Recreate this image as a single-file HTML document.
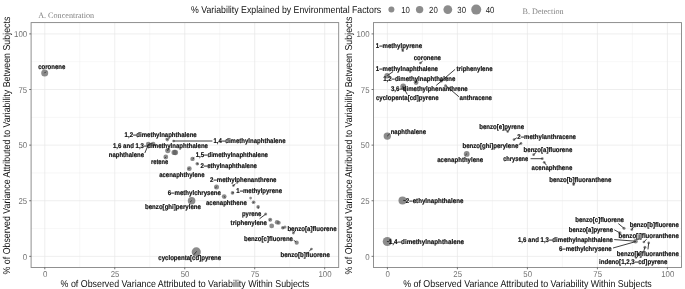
<!DOCTYPE html>
<html><head><meta charset="utf-8"><title>chart</title>
<style>html,body{margin:0;padding:0;background:#fff}svg{display:block;will-change:transform;transform:translateZ(0)}text{font-family:"Liberation Sans",sans-serif;text-rendering:geometricPrecision}.lab{font-weight:bold;font-size:6.8px;fill:#111;stroke:#111;stroke-width:0.18px}.tick{font-size:8.5px;fill:#727272}.ttl{font-size:9.9px;fill:#111}.ser{font-family:"Liberation Serif",serif;font-size:8.3px;fill:#828282}</style></head><body>
<svg width="685" height="289" viewBox="0 0 685 289">
<rect width="685" height="289" fill="#fff"/>
<g><line x1="79.79" y1="22.6" x2="79.79" y2="267.45" stroke="#ececec" stroke-width="0.4"/><line x1="31.10" y1="228.54" x2="338.70" y2="228.54" stroke="#ececec" stroke-width="0.4"/><line x1="149.76" y1="22.6" x2="149.76" y2="267.45" stroke="#ececec" stroke-width="0.4"/><line x1="31.10" y1="172.93" x2="338.70" y2="172.93" stroke="#ececec" stroke-width="0.4"/><line x1="219.74" y1="22.6" x2="219.74" y2="267.45" stroke="#ececec" stroke-width="0.4"/><line x1="31.10" y1="117.32" x2="338.70" y2="117.32" stroke="#ececec" stroke-width="0.4"/><line x1="289.71" y1="22.6" x2="289.71" y2="267.45" stroke="#ececec" stroke-width="0.4"/><line x1="31.10" y1="61.71" x2="338.70" y2="61.71" stroke="#ececec" stroke-width="0.4"/><line x1="44.80" y1="22.6" x2="44.80" y2="267.45" stroke="#e6e6e6" stroke-width="0.7"/><line x1="31.10" y1="256.35" x2="338.70" y2="256.35" stroke="#e6e6e6" stroke-width="0.7"/><line x1="114.77" y1="22.6" x2="114.77" y2="267.45" stroke="#e6e6e6" stroke-width="0.7"/><line x1="31.10" y1="200.74" x2="338.70" y2="200.74" stroke="#e6e6e6" stroke-width="0.7"/><line x1="184.75" y1="22.6" x2="184.75" y2="267.45" stroke="#e6e6e6" stroke-width="0.7"/><line x1="31.10" y1="145.13" x2="338.70" y2="145.13" stroke="#e6e6e6" stroke-width="0.7"/><line x1="254.72" y1="22.6" x2="254.72" y2="267.45" stroke="#e6e6e6" stroke-width="0.7"/><line x1="31.10" y1="89.51" x2="338.70" y2="89.51" stroke="#e6e6e6" stroke-width="0.7"/><line x1="324.70" y1="22.6" x2="324.70" y2="267.45" stroke="#e6e6e6" stroke-width="0.7"/><line x1="31.10" y1="33.90" x2="338.70" y2="33.90" stroke="#e6e6e6" stroke-width="0.7"/></g>
<g fill="#555555" fill-opacity="0.68"><circle cx="44.7" cy="72.9" r="3.5"/><circle cx="167.3" cy="139.6" r="1.8"/><circle cx="173.6" cy="141" r="1.35"/><circle cx="148.3" cy="144.1" r="2.4"/><circle cx="153.1" cy="144.1" r="2.4"/><circle cx="167.8" cy="150.6" r="2.6"/><circle cx="174.2" cy="152.4" r="2.7"/><circle cx="175.4" cy="152.5" r="2.7"/><circle cx="165.8" cy="157" r="2.4"/><circle cx="192.5" cy="158.9" r="2.2"/><circle cx="197.2" cy="163.7" r="1.7"/><circle cx="189.3" cy="168.7" r="2.4"/><circle cx="216.5" cy="187" r="2.5"/><circle cx="233.4" cy="185.6" r="1.35"/><circle cx="232.5" cy="192.9" r="1.8"/><circle cx="224.2" cy="196.6" r="2.4"/><circle cx="191.6" cy="200.7" r="3.8"/><circle cx="250.6" cy="198.1" r="1.35"/><circle cx="253.6" cy="202.2" r="1.8"/><circle cx="258.1" cy="206.9" r="1.8"/><circle cx="265.7" cy="214" r="1.5"/><circle cx="270.2" cy="219.7" r="2"/><circle cx="277.0" cy="222.3" r="2.2"/><circle cx="278.7" cy="222.8" r="2.0"/><circle cx="271.7" cy="225.9" r="2.4"/><circle cx="282.8" cy="227.8" r="1.8"/><circle cx="285" cy="227" r="1.5"/><circle cx="293.4" cy="233" r="1.4"/><circle cx="296.7" cy="242.7" r="2.1"/><circle cx="311.4" cy="249" r="1.35"/><circle cx="196.3" cy="251.9" r="4.6"/></g>
<g stroke="#2a2a2a" stroke-width="0.9" stroke-linecap="round"><line x1="173.6" y1="141" x2="212" y2="141"/><line x1="145" y1="152.6" x2="148" y2="145.5"/><line x1="233.4" y1="185.6" x2="235.2" y2="184.1"/><line x1="259.9" y1="218.5" x2="265.5" y2="214.3"/><line x1="293.4" y1="233" x2="295.5" y2="230.5"/><line x1="311.4" y1="249" x2="309.5" y2="251"/><line x1="196.4" y1="251.7" x2="194" y2="254.5"/><line x1="294" y1="240.5" x2="295.8" y2="241.8"/><line x1="216.5" y1="187" x2="215.6" y2="187.7"/><line x1="232.5" y1="192.9" x2="233.5" y2="192.7"/><line x1="224.2" y1="196.6" x2="225.1" y2="197.4"/><line x1="191.6" y1="200.7" x2="190.3" y2="201.9"/><line x1="253.6" y1="202.2" x2="253.0" y2="202.8"/><line x1="258.1" y1="206.9" x2="258.3" y2="208.1"/><line x1="167.3" y1="139.6" x2="166.5" y2="138.8"/><line x1="165.8" y1="157" x2="165.0" y2="157.9"/><line x1="193" y1="158.7" x2="193.9" y2="157.9"/><line x1="197.2" y1="163.7" x2="198.2" y2="164.0"/><line x1="189.2" y1="168.2" x2="188.5" y2="169.1"/><line x1="167.8" y1="150.6" x2="167.2" y2="150.0"/><line x1="44.7" y1="72.9" x2="45.7" y2="71.9"/><line x1="270.2" y1="219.7" x2="269.4" y2="220.3"/><line x1="282.8" y1="227.8" x2="283.8" y2="228.0"/></g>
<g class="lab"><text x="38.2" y="69.40" textLength="27.1" lengthAdjust="spacingAndGlyphs">coronene</text><text x="124.6" y="136.60" textLength="72.1" lengthAdjust="spacingAndGlyphs">1,2–dimethylnaphthalene</text><text x="213.5" y="142.60" textLength="72.0" lengthAdjust="spacingAndGlyphs">1,4–dimethylnaphthalene</text><text x="113" y="148.10" textLength="95.0" lengthAdjust="spacingAndGlyphs">1,6 and 1,3–dimethylnaphthalene</text><text x="108.8" y="157.10" textLength="35.2" lengthAdjust="spacingAndGlyphs">naphthalene</text><text x="151" y="164.40" textLength="17.3" lengthAdjust="spacingAndGlyphs">retene</text><text x="195.7" y="156.90" textLength="72.3" lengthAdjust="spacingAndGlyphs">1,5–dimethylnaphthalene</text><text x="200.5" y="167.70" textLength="56.5" lengthAdjust="spacingAndGlyphs">2–ethylnaphthalene</text><text x="159.2" y="176.50" textLength="45.3" lengthAdjust="spacingAndGlyphs">acenaphthylene</text><text x="210" y="182.40" textLength="66.5" lengthAdjust="spacingAndGlyphs">2–methylphenanthrene</text><text x="167.7" y="194.80" textLength="53.3" lengthAdjust="spacingAndGlyphs">6–methylchrysene</text><text x="236.3" y="192.70" textLength="45.7" lengthAdjust="spacingAndGlyphs">1–methylpyrene</text><text x="205.9" y="205.40" textLength="40.9" lengthAdjust="spacingAndGlyphs">acenaphthene</text><text x="145" y="209.10" textLength="55.9" lengthAdjust="spacingAndGlyphs">benzo[ghi]perylene</text><text x="242" y="215.60" textLength="19.4" lengthAdjust="spacingAndGlyphs">pyrene</text><text x="230.6" y="224.70" textLength="36.4" lengthAdjust="spacingAndGlyphs">triphenylene</text><text x="287.4" y="231.10" textLength="49.2" lengthAdjust="spacingAndGlyphs">benzo[a]fluorene</text><text x="244" y="241.00" textLength="49.0" lengthAdjust="spacingAndGlyphs">benzo[c]fluorene</text><text x="280.5" y="256.50" textLength="49.3" lengthAdjust="spacingAndGlyphs">benzo[b]fluorene</text><text x="158.3" y="259.90" textLength="62.9" lengthAdjust="spacingAndGlyphs">cyclopenta[cd]pyrene</text></g>
<rect x="31.10" y="22.6" width="307.60" height="244.85" fill="none" stroke="#848484" stroke-width="0.9"/>
<g><line x1="44.80" y1="267.45" x2="44.80" y2="269.34999999999997" stroke="#4a4a4a" stroke-width="0.75"/><line x1="29.20" y1="256.35" x2="31.10" y2="256.35" stroke="#4a4a4a" stroke-width="0.75"/><text class="tick" x="42.92" y="277.3" textLength="4.4" lengthAdjust="spacingAndGlyphs">0</text><text class="tick" x="22.84" y="259.50" textLength="4.4" lengthAdjust="spacingAndGlyphs">0</text><line x1="114.77" y1="267.45" x2="114.77" y2="269.34999999999997" stroke="#4a4a4a" stroke-width="0.75"/><line x1="29.20" y1="200.74" x2="31.10" y2="200.74" stroke="#4a4a4a" stroke-width="0.75"/><text class="tick" x="110.71" y="277.3" textLength="8.7" lengthAdjust="spacingAndGlyphs">25</text><text class="tick" x="18.48" y="203.89" textLength="8.7" lengthAdjust="spacingAndGlyphs">25</text><line x1="184.75" y1="267.45" x2="184.75" y2="269.34999999999997" stroke="#4a4a4a" stroke-width="0.75"/><line x1="29.20" y1="145.13" x2="31.10" y2="145.13" stroke="#4a4a4a" stroke-width="0.75"/><text class="tick" x="180.69" y="277.3" textLength="8.7" lengthAdjust="spacingAndGlyphs">50</text><text class="tick" x="18.48" y="148.28" textLength="8.7" lengthAdjust="spacingAndGlyphs">50</text><line x1="254.72" y1="267.45" x2="254.72" y2="269.34999999999997" stroke="#4a4a4a" stroke-width="0.75"/><line x1="29.20" y1="89.51" x2="31.10" y2="89.51" stroke="#4a4a4a" stroke-width="0.75"/><text class="tick" x="250.66" y="277.3" textLength="8.7" lengthAdjust="spacingAndGlyphs">75</text><text class="tick" x="18.48" y="92.66" textLength="8.7" lengthAdjust="spacingAndGlyphs">75</text><line x1="324.70" y1="267.45" x2="324.70" y2="269.34999999999997" stroke="#4a4a4a" stroke-width="0.75"/><line x1="29.20" y1="33.90" x2="31.10" y2="33.90" stroke="#4a4a4a" stroke-width="0.75"/><text class="tick" x="318.46" y="277.3" textLength="13.1" lengthAdjust="spacingAndGlyphs">100</text><text class="tick" x="14.12" y="37.05" textLength="13.1" lengthAdjust="spacingAndGlyphs">100</text></g>
<text class="ttl" x="184.90" y="287.45" text-anchor="middle" textLength="248.6" lengthAdjust="spacingAndGlyphs">% of Observed Variance Attributed to Variability Within Subjects</text>
<text class="ttl" style="font-size:10.0px" transform="translate(9.85,145.58) rotate(-90)" text-anchor="middle" textLength="257.8" lengthAdjust="spacingAndGlyphs">% of Observed Variance Attributed to Variability Between Subjects</text>
<g><line x1="422.40" y1="22.6" x2="422.40" y2="267.45" stroke="#ececec" stroke-width="0.4"/><line x1="373.45" y1="228.54" x2="681.50" y2="228.54" stroke="#ececec" stroke-width="0.4"/><line x1="492.40" y1="22.6" x2="492.40" y2="267.45" stroke="#ececec" stroke-width="0.4"/><line x1="373.45" y1="172.93" x2="681.50" y2="172.93" stroke="#ececec" stroke-width="0.4"/><line x1="562.40" y1="22.6" x2="562.40" y2="267.45" stroke="#ececec" stroke-width="0.4"/><line x1="373.45" y1="117.32" x2="681.50" y2="117.32" stroke="#ececec" stroke-width="0.4"/><line x1="632.40" y1="22.6" x2="632.40" y2="267.45" stroke="#ececec" stroke-width="0.4"/><line x1="373.45" y1="61.71" x2="681.50" y2="61.71" stroke="#ececec" stroke-width="0.4"/><line x1="387.40" y1="22.6" x2="387.40" y2="267.45" stroke="#e6e6e6" stroke-width="0.7"/><line x1="373.45" y1="256.35" x2="681.50" y2="256.35" stroke="#e6e6e6" stroke-width="0.7"/><line x1="457.40" y1="22.6" x2="457.40" y2="267.45" stroke="#e6e6e6" stroke-width="0.7"/><line x1="373.45" y1="200.74" x2="681.50" y2="200.74" stroke="#e6e6e6" stroke-width="0.7"/><line x1="527.40" y1="22.6" x2="527.40" y2="267.45" stroke="#e6e6e6" stroke-width="0.7"/><line x1="373.45" y1="145.13" x2="681.50" y2="145.13" stroke="#e6e6e6" stroke-width="0.7"/><line x1="597.40" y1="22.6" x2="597.40" y2="267.45" stroke="#e6e6e6" stroke-width="0.7"/><line x1="373.45" y1="89.51" x2="681.50" y2="89.51" stroke="#e6e6e6" stroke-width="0.7"/><line x1="667.40" y1="22.6" x2="667.40" y2="267.45" stroke="#e6e6e6" stroke-width="0.7"/><line x1="373.45" y1="33.90" x2="681.50" y2="33.90" stroke="#e6e6e6" stroke-width="0.7"/></g>
<g fill="#555555" fill-opacity="0.68"><circle cx="402.8" cy="50.7" r="1.35"/><circle cx="420.4" cy="63.0" r="1.35"/><circle cx="387.1" cy="75.8" r="2.7"/><circle cx="416.1" cy="82.5" r="2.4"/><circle cx="441.3" cy="81.0" r="1.5"/><circle cx="445.5" cy="85.7" r="1.5"/><circle cx="403.2" cy="86.5" r="2.9"/><circle cx="387.3" cy="136.1" r="3.7"/><circle cx="466.7" cy="153.9" r="2.9"/><circle cx="507.7" cy="131.6" r="1.35"/><circle cx="514" cy="139.6" r="1.35"/><circle cx="521" cy="143.4" r="1.35"/><circle cx="533.6" cy="154.7" r="1.35"/><circle cx="542.3" cy="158.7" r="1.35"/><circle cx="544.2" cy="162.3" r="1.35"/><circle cx="402.5" cy="200.4" r="4"/><circle cx="387.3" cy="241.5" r="4.6"/><circle cx="573.6" cy="184.6" r="1.35"/><circle cx="624" cy="228.3" r="1.5"/><circle cx="631.8" cy="229.6" r="1.35"/><circle cx="619.9" cy="232.9" r="1.6"/><circle cx="635.6" cy="241.3" r="2.2"/><circle cx="643.9" cy="242" r="1.35"/><circle cx="648.7" cy="242.9" r="1.35"/><circle cx="644.9" cy="247.2" r="1.5"/><circle cx="639.4" cy="254" r="1.5"/></g>
<g stroke="#2a2a2a" stroke-width="0.9" stroke-linecap="round"><line x1="454.8" y1="69.6" x2="436.5" y2="85.2"/><line x1="387.6" y1="75.4" x2="392.8" y2="71.8"/><line x1="403.3" y1="87.2" x2="407" y2="94"/><line x1="446" y1="85.7" x2="458.6" y2="96.5"/><line x1="402.8" y1="50.7" x2="401.8" y2="48.9"/><line x1="420.4" y1="63" x2="422.3" y2="61.4"/><line x1="387.5" y1="135.9" x2="389.5" y2="134"/><line x1="507.7" y1="131.6" x2="506" y2="129.5"/><line x1="514" y1="139.6" x2="516.5" y2="138"/><line x1="521" y1="143.4" x2="519" y2="144.5"/><line x1="533.6" y1="154.7" x2="536" y2="152.5"/><line x1="531" y1="158.7" x2="542.3" y2="158.7"/><line x1="544.2" y1="162.3" x2="546.3" y2="165"/><line x1="618.6" y1="223.8" x2="624" y2="228.3"/><line x1="631.8" y1="229.6" x2="633.5" y2="227"/><line x1="614.6" y1="230" x2="619.9" y2="232.9"/><line x1="614.6" y1="239.6" x2="635.4" y2="241.2"/><line x1="613.4" y1="247.9" x2="635.4" y2="241.7"/><line x1="643.9" y1="242" x2="646.3" y2="239.5"/><line x1="648.7" y1="242.9" x2="648" y2="249"/><line x1="644.9" y1="247.2" x2="644" y2="250.5"/><line x1="639.4" y1="254" x2="636" y2="258.5"/><line x1="573.6" y1="184.6" x2="575.3" y2="182.8"/><line x1="415.9" y1="82.6" x2="415.4" y2="81.6"/><line x1="466.6" y1="154" x2="465.6" y2="155.0"/><line x1="403.6" y1="200.4" x2="405.5" y2="200.6"/><line x1="387.3" y1="241.5" x2="389.1" y2="241.7"/><line x1="403.2" y1="86.5" x2="402.4" y2="87.1"/><line x1="441.3" y1="81.0" x2="442.1" y2="80.2"/></g>
<g class="lab"><text x="375.8" y="48.30" textLength="46.3" lengthAdjust="spacingAndGlyphs">1–methylpyrene</text><text x="413.7" y="60.40" textLength="27.3" lengthAdjust="spacingAndGlyphs">coronene</text><text x="375.8" y="71.40" textLength="62.2" lengthAdjust="spacingAndGlyphs">1–methylnaphthalene</text><text x="456.6" y="71.40" textLength="35.9" lengthAdjust="spacingAndGlyphs">triphenylene</text><text x="383.2" y="80.80" textLength="72.1" lengthAdjust="spacingAndGlyphs">1,2–dimethylnaphthalene</text><text x="391.0" y="91.40" textLength="76.7" lengthAdjust="spacingAndGlyphs">3,6–dimethylphenanthrene</text><text x="376.0" y="100.20" textLength="62.6" lengthAdjust="spacingAndGlyphs">cyclopenta[cd]pyrene</text><text x="459.6" y="100.20" textLength="32.4" lengthAdjust="spacingAndGlyphs">anthracene</text><text x="390.7" y="133.50" textLength="35.3" lengthAdjust="spacingAndGlyphs">naphthalene</text><text x="479.3" y="129.10" textLength="44.7" lengthAdjust="spacingAndGlyphs">benzo[e]pyrene</text><text x="517.3" y="139.00" textLength="58.7" lengthAdjust="spacingAndGlyphs">2–methylanthracene</text><text x="462.5" y="147.80" textLength="55.8" lengthAdjust="spacingAndGlyphs">benzo[ghi]perylene</text><text x="523.6" y="152.40" textLength="48.7" lengthAdjust="spacingAndGlyphs">benzo[a]fluorene</text><text x="437.2" y="162.20" textLength="46.0" lengthAdjust="spacingAndGlyphs">acenaphthylene</text><text x="503.2" y="161.10" textLength="25.1" lengthAdjust="spacingAndGlyphs">chrysene</text><text x="531.6" y="170.30" textLength="40.7" lengthAdjust="spacingAndGlyphs">acenaphthene</text><text x="549.2" y="182.40" textLength="62.3" lengthAdjust="spacingAndGlyphs">benzo[b]fluoranthene</text><text x="405.8" y="202.60" textLength="57.6" lengthAdjust="spacingAndGlyphs">2–ethylnaphthalene</text><text x="388.8" y="243.80" textLength="75.2" lengthAdjust="spacingAndGlyphs">1,4–dimethylnaphthalene</text><text x="575.3" y="222.40" textLength="48.7" lengthAdjust="spacingAndGlyphs">benzo[c]fluorene</text><text x="629.8" y="226.90" textLength="49.0" lengthAdjust="spacingAndGlyphs">benzo[b]fluorene</text><text x="568.8" y="231.90" textLength="44.2" lengthAdjust="spacingAndGlyphs">benzo[a]pyrene</text><text x="618.5" y="238.30" textLength="60.3" lengthAdjust="spacingAndGlyphs">benzo[j]fluoranthene</text><text x="518" y="242.00" textLength="95.0" lengthAdjust="spacingAndGlyphs">1,6 and 1,3–dimethylnaphthalene</text><text x="559" y="251.10" textLength="52.7" lengthAdjust="spacingAndGlyphs">6–methylchrysene</text><text x="616.8" y="255.60" textLength="62.0" lengthAdjust="spacingAndGlyphs">benzo[k]fluoranthene</text><text x="599" y="264.40" textLength="68.5" lengthAdjust="spacingAndGlyphs">indeno[1,2,3–cd]pyrene</text></g>
<rect x="373.45" y="22.6" width="308.05" height="244.85" fill="none" stroke="#848484" stroke-width="0.9"/>
<g><line x1="387.40" y1="267.45" x2="387.40" y2="269.34999999999997" stroke="#4a4a4a" stroke-width="0.75"/><line x1="371.55" y1="256.35" x2="373.45" y2="256.35" stroke="#4a4a4a" stroke-width="0.75"/><text class="tick" x="385.52" y="277.3" textLength="4.4" lengthAdjust="spacingAndGlyphs">0</text><text class="tick" x="365.19" y="259.50" textLength="4.4" lengthAdjust="spacingAndGlyphs">0</text><line x1="457.40" y1="267.45" x2="457.40" y2="269.34999999999997" stroke="#4a4a4a" stroke-width="0.75"/><line x1="371.55" y1="200.74" x2="373.45" y2="200.74" stroke="#4a4a4a" stroke-width="0.75"/><text class="tick" x="453.34" y="277.3" textLength="8.7" lengthAdjust="spacingAndGlyphs">25</text><text class="tick" x="360.83" y="203.89" textLength="8.7" lengthAdjust="spacingAndGlyphs">25</text><line x1="527.40" y1="267.45" x2="527.40" y2="269.34999999999997" stroke="#4a4a4a" stroke-width="0.75"/><line x1="371.55" y1="145.13" x2="373.45" y2="145.13" stroke="#4a4a4a" stroke-width="0.75"/><text class="tick" x="523.34" y="277.3" textLength="8.7" lengthAdjust="spacingAndGlyphs">50</text><text class="tick" x="360.83" y="148.28" textLength="8.7" lengthAdjust="spacingAndGlyphs">50</text><line x1="597.40" y1="267.45" x2="597.40" y2="269.34999999999997" stroke="#4a4a4a" stroke-width="0.75"/><line x1="371.55" y1="89.51" x2="373.45" y2="89.51" stroke="#4a4a4a" stroke-width="0.75"/><text class="tick" x="593.34" y="277.3" textLength="8.7" lengthAdjust="spacingAndGlyphs">75</text><text class="tick" x="360.83" y="92.66" textLength="8.7" lengthAdjust="spacingAndGlyphs">75</text><line x1="667.40" y1="267.45" x2="667.40" y2="269.34999999999997" stroke="#4a4a4a" stroke-width="0.75"/><line x1="371.55" y1="33.90" x2="373.45" y2="33.90" stroke="#4a4a4a" stroke-width="0.75"/><text class="tick" x="661.16" y="277.3" textLength="13.1" lengthAdjust="spacingAndGlyphs">100</text><text class="tick" x="356.47" y="37.05" textLength="13.1" lengthAdjust="spacingAndGlyphs">100</text></g>
<text class="ttl" x="527.48" y="287.45" text-anchor="middle" textLength="248.6" lengthAdjust="spacingAndGlyphs">% of Observed Variance Attributed to Variability Within Subjects</text>
<text class="ttl" style="font-size:10.0px" transform="translate(352.20,145.58) rotate(-90)" text-anchor="middle" textLength="257.8" lengthAdjust="spacingAndGlyphs">% of Observed Variance Attributed to Variability Between Subjects</text>
<text class="ser" x="38.2" y="18" textLength="56" lengthAdjust="spacingAndGlyphs">A. Concentration</text>
<text class="ser" x="522.6" y="13.8" textLength="41" lengthAdjust="spacingAndGlyphs">B. Detection</text>
<text class="ttl" x="191.1" y="12.7" textLength="190.1" lengthAdjust="spacingAndGlyphs">% Variability Explained by Environmental Factors</text>
<circle cx="391.4" cy="9.6" r="3.0" fill="#555555" fill-opacity="0.68"/><text class="tick" x="401.2" y="12.75" textLength="8.7" lengthAdjust="spacingAndGlyphs" style="fill:#222;font-size:8.8px">10</text>
<circle cx="419.6" cy="9.6" r="3.7" fill="#555555" fill-opacity="0.68"/><text class="tick" x="429.1" y="12.75" textLength="8.7" lengthAdjust="spacingAndGlyphs" style="fill:#222;font-size:8.8px">20</text>
<circle cx="447.8" cy="9.6" r="4.4" fill="#555555" fill-opacity="0.68"/><text class="tick" x="457.3" y="12.75" textLength="8.7" lengthAdjust="spacingAndGlyphs" style="fill:#222;font-size:8.8px">30</text>
<circle cx="476.2" cy="9.6" r="5.0" fill="#555555" fill-opacity="0.68"/><text class="tick" x="485.7" y="12.75" textLength="8.7" lengthAdjust="spacingAndGlyphs" style="fill:#222;font-size:8.8px">40</text>
</svg></body></html>
